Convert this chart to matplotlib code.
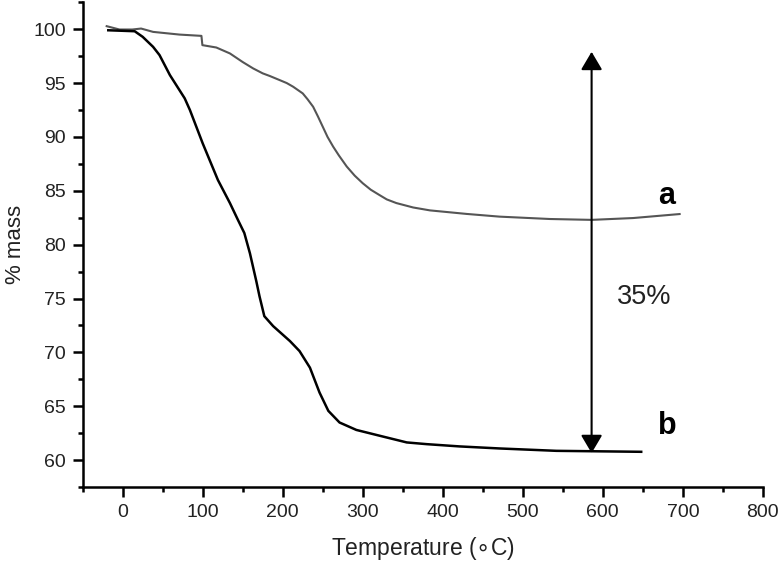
import numpy as np
import matplotlib.pyplot as plt
from matplotlib.ticker import MultipleLocator

plt.rcParams['font.family'] = ['Liberation Sans', 'DejaVu Sans']
plt.rcParams['mathtext.fontset'] = 'dejavusans'

# curve a (grey)
temp_a = [-20, -4, 12, 23, 38, 71, 98.4, 99.6, 117, 134, 150, 163, 175, 184, 196, 205,
          213, 225, 231, 238, 244, 250, 256, 263, 270, 280, 290, 300, 310, 321, 330,
          342, 363, 384, 430, 471, 534, 586, 638, 696]
mass_a = [100.28, 99.97, 99.97, 100.06, 99.75, 99.5, 99.38, 98.52, 98.3, 97.75, 96.95,
          96.36, 95.9, 95.65, 95.28, 95.0, 94.66, 94.04, 93.5, 92.8, 91.9, 90.95, 90.0,
          89.1, 88.3, 87.25, 86.4, 85.7, 85.1, 84.6, 84.2, 83.86, 83.45, 83.18, 82.85,
          82.6, 82.38, 82.3, 82.47, 82.84]

# curve b (black)
temp_b = [-18, 15, 25, 38, 46, 59, 77.5, 84, 100, 119, 134, 144, 152, 159, 167, 171,
          177, 188, 209, 221, 234, 246, 257, 271, 292, 325, 355, 380, 421, 471, 542,
          613, 648]
mass_b = [99.9, 99.81, 99.29, 98.36, 97.6, 95.74, 93.58, 92.5, 89.4, 86.0, 83.86, 82.3,
          81.08, 79.2, 76.6, 75.2, 73.36, 72.44, 71.05, 70.12, 68.58, 66.27, 64.57,
          63.49, 62.8, 62.19, 61.64, 61.48, 61.27, 61.08, 60.86, 60.8, 60.77]

arrow_x = 586
arrow_y = (60.65, 97.9)

fig = plt.figure(figsize=(7.8, 5.65), dpi=100)
ax = fig.add_axes([0.106, 0.138, 0.872, 0.858])

ax.plot(temp_a, mass_a, color='#555555', lw=1.5, zorder=3, solid_joinstyle='round')
ax.plot(temp_b, mass_b, color='black', lw=1.8, zorder=3, solid_joinstyle='round')

ax.annotate('', xy=(arrow_x, arrow_y[1]), xytext=(arrow_x, arrow_y[0]),
            arrowprops=dict(arrowstyle='<|-|>,head_length=11,head_width=6.5',
                            mutation_scale=1, color='black', lw=1.5,
                            shrinkA=0, shrinkB=0))

ax.text(680, 84.5, 'a', fontsize=22, fontweight='bold', ha='center', va='center')
ax.text(681, 63.2, 'b', fontsize=22, fontweight='bold', ha='center', va='center')
ax.text(652, 75.1, '35%', fontsize=19.5, color='#222222', ha='center', va='center')

ax.set_xlim(-50, 800)
ax.set_ylim(57.5, 102.5)
ax.xaxis.set_major_locator(MultipleLocator(100))
ax.xaxis.set_minor_locator(MultipleLocator(50))
ax.yaxis.set_major_locator(MultipleLocator(5))
ax.yaxis.set_minor_locator(MultipleLocator(2.5))

for s in ['top', 'right']:
    ax.spines[s].set_visible(False)
for s in ['left', 'bottom']:
    ax.spines[s].set_linewidth(1.8)

ax.tick_params(which='major', length=7, width=1.8, labelsize=14, pad=5,
               labelcolor='#222222')
ax.tick_params(which='minor', length=3.5, width=1.8)

ax.set_xlabel(r'Temperature ($\circ$C)', fontsize=16.5, color='#222222', labelpad=10)
ax.set_ylabel('% mass', fontsize=16, color='#222222', labelpad=5)

fig.savefig('out.png', dpi=100)
